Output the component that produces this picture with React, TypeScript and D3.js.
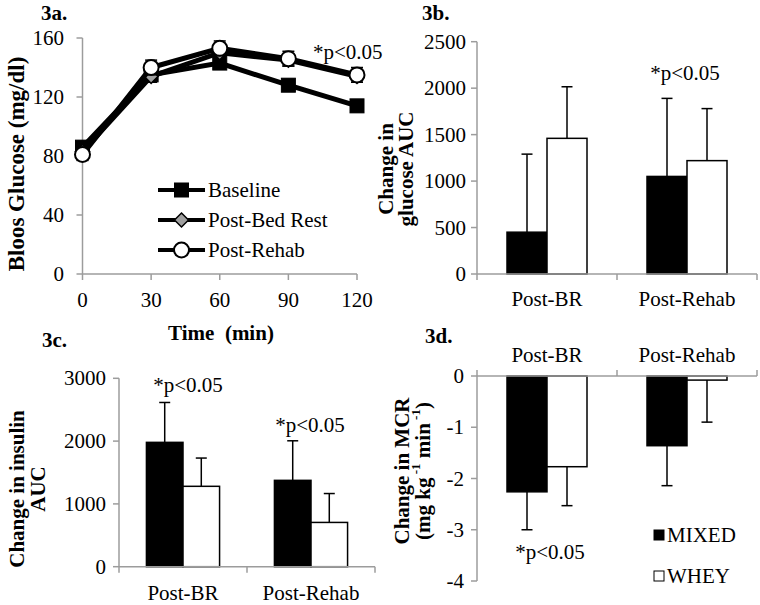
import React from "react";
import * as d3 from "d3";

// ---------- Data ----------
const times = [0, 30, 60, 90, 120];
const baseline = [86, 135, 143, 128, 114];
const baselineErr = [4, 4, 4, 4, 4];
const postBedRest = [83, 134, 150, 145, 134];
const postBedRestErr = [4, 4, 4, 4, 4];
const postRehab = [81, 140, 153, 146, 135];
const postRehabErr = [4, 5, 5, 5, 5];
const glucoseTicks = [0, 40, 80, 120, 160];

const categories = ["Post-BR", "Post-Rehab"];
const groups = ["MIXED", "WHEY"];

const glucoseAUCMixed = [450, 1050];
const glucoseAUCMixedErr = [840, 840];
const glucoseAUCWhey = [1460, 1220];
const glucoseAUCWheyErr = [555, 560];
const glucoseAUCTicks = [0, 500, 1000, 1500, 2000, 2500];

const insulinAUCMixed = [1980, 1375];
const insulinAUCMixedErr = [635, 630];
const insulinAUCWhey = [1280, 705];
const insulinAUCWheyErr = [450, 460];
const insulinAUCTicks = [0, 1000, 2000, 3000];

const mcrMixed = [-2.26, -1.36];
const mcrMixedErr = [0.74, 0.78];
const mcrWhey = [-1.77, -0.08];
const mcrWheyErr = [0.76, 0.82];
const mcrTicks = [0, -1, -2, -3, -4];

const AXIS = "#9c9c9c";
const FONT = "'Liberation Serif', 'Times New Roman', serif";

type BarPanelProps = {
  x0: number;
  x1: number;
  y0: number;
  y1: number;
  domain: [number, number];
  ticks: number[];
  mixed: number[];
  mixedErr: number[];
  whey: number[];
  wheyErr: number[];
  negative?: boolean;
  labelRight: number;
};

function BarPanel(p: BarPanelProps) {
  const x = d3.scaleBand<string>().domain(categories).range([p.x0, p.x1]).padding(0);
  const sub = d3
    .scaleBand<string>()
    .domain(groups)
    .range([0, x.bandwidth()])
    .paddingInner(0)
    .paddingOuter(0.75);
  const y = d3.scaleLinear().domain(p.domain).range([p.y0, p.y1]);
  const zeroY = y(0);
  const series = [
    { key: "MIXED", vals: p.mixed, errs: p.mixedErr, fill: "#000" },
    { key: "WHEY", vals: p.whey, errs: p.wheyErr, fill: "#fff" },
  ];
  const boundaries = [p.x0, ...categories.map((c) => (x(c) as number) + x.bandwidth())];
  return (
    <g>
      {series.map((s) =>
        categories.map((c, i) => {
          const bx = (x(c) as number) + (sub(s.key) as number);
          const v = s.vals[i];
          const top = Math.min(y(v), zeroY);
          const h = Math.abs(y(v) - zeroY);
          return (
            <rect
              key={s.key + c}
              x={bx}
              y={top}
              width={sub.bandwidth()}
              height={h}
              fill={s.fill}
              stroke="#000"
              strokeWidth={1.5}
            />
          );
        })
      )}
      {series.map((s) =>
        categories.map((c, i) => {
          const cx = (x(c) as number) + (sub(s.key) as number) + sub.bandwidth() / 2;
          const v = s.vals[i];
          const e = v >= 0 ? v + s.errs[i] : v - s.errs[i];
          return (
            <g key={"e" + s.key + c} stroke="#000" strokeWidth={1.5}>
              <line x1={cx} x2={cx} y1={y(v)} y2={y(e)} />
              <line x1={cx - 5.5} x2={cx + 5.5} y1={y(e)} y2={y(e)} />
            </g>
          );
        })
      )}
      <line x1={p.x0} x2={p.x0} y1={y(p.domain[0])} y2={y(p.domain[1])} stroke={AXIS} strokeWidth={1.5} />
      <line x1={p.x0} x2={p.x1} y1={zeroY} y2={zeroY} stroke={AXIS} strokeWidth={1.5} />
      {p.ticks.map((t) => (
        <g key={t}>
          <line x1={p.x0 - 6} x2={p.x0} y1={y(t)} y2={y(t)} stroke={AXIS} strokeWidth={1.5} />
          <text
            x={p.labelRight}
            y={y(t)}
            textAnchor="end"
            dominantBaseline="central"
            fontSize={21}
            fontFamily={FONT}
          >
            {t}
          </text>
        </g>
      ))}
      {boundaries.map((b, i) => (
        <line
          key={"b" + i}
          x1={b}
          x2={b}
          y1={zeroY}
          y2={p.negative ? zeroY - 6 : zeroY + 6}
          stroke={AXIS}
          strokeWidth={1.5}
        />
      ))}
    </g>
  );
}

function CategoryLabels({ x0, x1, y }: { x0: number; x1: number; y: number }) {
  const x = d3.scaleBand<string>().domain(categories).range([x0, x1]).padding(0);
  return (
    <g>
      {categories.map((c) => (
        <text
          key={c}
          x={(x(c) as number) + x.bandwidth() / 2}
          y={y}
          textAnchor="middle"
          fontSize={21}
          fontFamily={FONT}
        >
          {c}
        </text>
      ))}
    </g>
  );
}

function Marker({ kind, x, y }: { kind: string; x: number; y: number }) {
  if (kind === "square")
    return <rect x={x - 7} y={y - 7} width={14} height={14} fill="#000" stroke="#000" strokeWidth={1} />;
  if (kind === "diamond")
    return (
      <path
        d={`M${x},${y - 7}L${x + 7},${y}L${x},${y + 7}L${x - 7},${y}Z`}
        fill="#a0a0a0"
        stroke="#000"
        strokeWidth={1.5}
      />
    );
  return <circle cx={x} cy={y} r={7.5} fill="#fff" stroke="#000" strokeWidth={2} />;
}

function LinePanel() {
  const x = d3.scaleLinear().domain([0, 120]).range([82.5, 357]);
  const y = d3.scaleLinear().domain([0, 160]).range([274, 38]);
  const line = d3
    .line<number>()
    .x((_, i) => x(times[i]))
    .y((d) => y(d));
  const series = [
    { name: "Baseline", vals: baseline, errs: baselineErr, kind: "square" },
    { name: "Post-Bed Rest", vals: postBedRest, errs: postBedRestErr, kind: "diamond" },
    { name: "Post-Rehab", vals: postRehab, errs: postRehabErr, kind: "circle" },
  ];
  return (
    <g>
      <line x1={x(0)} x2={x(0)} y1={y(0)} y2={y(160)} stroke={AXIS} strokeWidth={1.5} />
      <line x1={x(0)} x2={x(120)} y1={y(0)} y2={y(0)} stroke={AXIS} strokeWidth={1.5} />
      {glucoseTicks.map((t) => (
        <g key={t}>
          <line x1={x(0) - 6} x2={x(0)} y1={y(t)} y2={y(t)} stroke={AXIS} strokeWidth={1.5} />
          <text x={64} y={y(t)} textAnchor="end" dominantBaseline="central" fontSize={21} fontFamily={FONT}>
            {t}
          </text>
        </g>
      ))}
      {times.map((t) => (
        <g key={t}>
          <line x1={x(t)} x2={x(t)} y1={y(0)} y2={y(0) + 6} stroke={AXIS} strokeWidth={1.5} />
          <text x={x(t)} y={307} textAnchor="middle" fontSize={21} fontFamily={FONT}>
            {t}
          </text>
        </g>
      ))}
      {series.map((s) => (
        <g key={s.name}>
          <path d={line(s.vals) as string} fill="none" stroke="#000" strokeWidth={5} />
          {s.vals.map((v, i) => (
            <g key={i} stroke="#000" strokeWidth={1.5}>
              <line x1={x(times[i])} x2={x(times[i])} y1={y(v - s.errs[i])} y2={y(v + s.errs[i])} />
              <line x1={x(times[i]) - 6} x2={x(times[i]) + 6} y1={y(v + s.errs[i])} y2={y(v + s.errs[i])} />
              <line x1={x(times[i]) - 6} x2={x(times[i]) + 6} y1={y(v - s.errs[i])} y2={y(v - s.errs[i])} />
            </g>
          ))}
          {s.vals.map((v, i) => (
            <Marker key={"m" + i} kind={s.kind} x={x(times[i])} y={y(v)} />
          ))}
        </g>
      ))}
      {series.map((s, i) => {
        const ly = 190 + i * 30;
        return (
          <g key={"l" + s.name}>
            <line x1={158} x2={205} y1={ly} y2={ly} stroke="#000" strokeWidth={4} />
            <Marker kind={s.kind} x={181.5} y={ly} />
            <text x={208} y={ly} dominantBaseline="central" fontSize={21} fontFamily={FONT}>
              {s.name}
            </text>
          </g>
        );
      })}
      <text x={313} y={59} fontSize={21} fontFamily={FONT}>
        *p&lt;0.05
      </text>
      <text
        transform={`translate(16,164) rotate(-90)`}
        textAnchor="middle"
        dominantBaseline="central"
        fontSize={23}
        fontWeight="bold"
        fontFamily={FONT}
      >
        Bloos Glucose (mg/dl)
      </text>
      <text x={221} y={340} textAnchor="middle" fontSize={21} fontWeight="bold" fontFamily={FONT} xmlSpace="preserve">
        Time  (min)
      </text>
    </g>
  );
}

export default function App() {
  return (
    <svg
      width={760}
      height={605}
      style={{ position: "absolute", left: 0, top: 0, background: "#fff" }}
      fontFamily={FONT}
    >
      <rect x={0} y={0} width={760} height={605} fill="#fff" />
      {/* 3a */}
      <text x={41} y={20} fontSize={21} fontWeight="bold">3a.</text>
      <LinePanel />

      {/* 3b */}
      <text x={422} y={20} fontSize={21} fontWeight="bold">3b.</text>
      <BarPanel
        x0={477}
        x1={757}
        y0={274}
        y1={41.7}
        domain={[0, 2500]}
        ticks={glucoseAUCTicks}
        mixed={glucoseAUCMixed}
        mixedErr={glucoseAUCMixedErr}
        whey={glucoseAUCWhey}
        wheyErr={glucoseAUCWheyErr}
        labelRight={466}
      />
      <CategoryLabels x0={477} x1={757} y={306} />
      <text x={685} y={80} textAnchor="middle" fontSize={21}>*p&lt;0.05</text>
      <text transform="translate(386,169) rotate(-90)" textAnchor="middle" dominantBaseline="central" fontSize={21} fontWeight="bold">
        Change in
      </text>
      <text transform="translate(406,169) rotate(-90)" textAnchor="middle" dominantBaseline="central" fontSize={21} fontWeight="bold">
        glucose AUC
      </text>

      {/* 3c */}
      <text x={42} y={347} fontSize={21} fontWeight="bold">3c.</text>
      <BarPanel
        x0={119}
        x1={375}
        y0={566.7}
        y1={378.3}
        domain={[0, 3000]}
        ticks={insulinAUCTicks}
        mixed={insulinAUCMixed}
        mixedErr={insulinAUCMixedErr}
        whey={insulinAUCWhey}
        wheyErr={insulinAUCWheyErr}
        labelRight={106}
      />
      <CategoryLabels x0={119} x1={375} y={600} />
      <text x={188} y={392} textAnchor="middle" fontSize={21}>*p&lt;0.05</text>
      <text x={310} y={432} textAnchor="middle" fontSize={21}>*p&lt;0.05</text>
      <text transform="translate(17,489) rotate(-90)" textAnchor="middle" dominantBaseline="central" fontSize={21} fontWeight="bold">
        Change in insulin
      </text>
      <text transform="translate(38,489) rotate(-90)" textAnchor="middle" dominantBaseline="central" fontSize={21} fontWeight="bold">
        AUC
      </text>

      {/* 3d */}
      <text x={425} y={343} fontSize={21} fontWeight="bold">3d.</text>
      <BarPanel
        x0={477}
        x1={757}
        y0={581}
        y1={376}
        domain={[-4, 0]}
        ticks={mcrTicks}
        mixed={mcrMixed}
        mixedErr={mcrMixedErr}
        whey={mcrWhey}
        wheyErr={mcrWheyErr}
        negative
        labelRight={464}
      />
      <CategoryLabels x0={477} x1={757} y={362} />
      <text x={550} y={559} textAnchor="middle" fontSize={21}>*p&lt;0.05</text>
      <text transform="translate(402,471) rotate(-90)" textAnchor="middle" dominantBaseline="central" fontSize={21} fontWeight="bold">
        Change in MCR
      </text>
      <text transform="translate(423,471) rotate(-90)" textAnchor="middle" dominantBaseline="central" fontSize={21} fontWeight="bold">
        (mg kg<tspan baseline-shift="super" fontSize={13}> -1</tspan> min<tspan baseline-shift="super" fontSize={13}> -1</tspan>)
      </text>
      {/* legend */}
      <rect x={654} y={530} width={10} height={10} fill="#000" stroke="#000" strokeWidth={1} />
      <text x={667} y={535} dominantBaseline="central" fontSize={21}>MIXED</text>
      <rect x={654} y={571} width={10} height={10} fill="#fff" stroke="#000" strokeWidth={1} />
      <text x={667} y={576} dominantBaseline="central" fontSize={21}>WHEY</text>
    </svg>
  );
}
